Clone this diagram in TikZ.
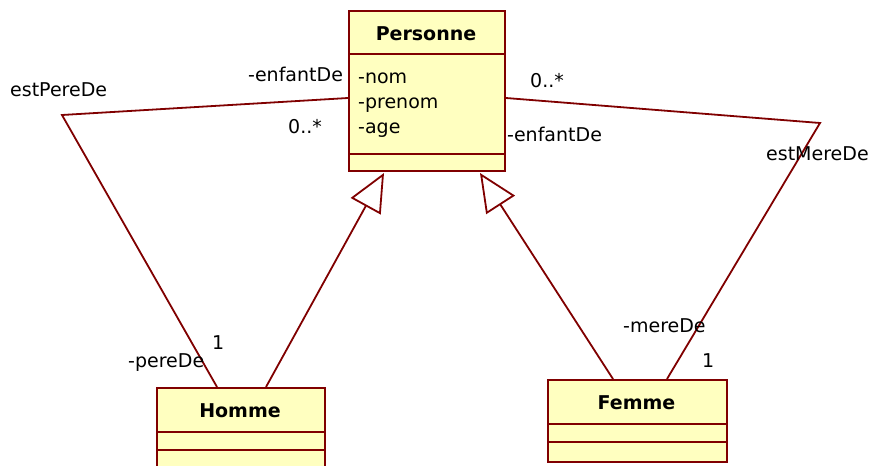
\documentclass[tikz,border=0pt]{standalone}
\usepackage{fontspec}
\setmainfont{DejaVu Sans}
\usetikzlibrary{arrows.meta}
\definecolor{umlline}{RGB}{128,0,0}
\definecolor{umlfill}{RGB}{255,255,192}
\begin{document}
\begin{tikzpicture}[x=1pt,y=-1pt,
  cls/.style={draw=umlline, fill=umlfill, line width=2pt, rectangle, inner sep=0pt, anchor=north west},
  sep/.style={draw=umlline, line width=2pt},
  assoc/.style={draw=umlline, line width=1.8pt, line join=miter},
  gen/.style={draw=umlline, line width=1.8pt, -{Triangle[open,length=38pt,width=34pt]}},
  lbl/.style={font=\fontsize{19}{22}\selectfont, inner sep=0pt, anchor=base west},
  ttl/.style={font=\fontsize{19}{22}\selectfont\bfseries, inner sep=0pt, anchor=base}]
\clip (0,0) rectangle (871,466);
\fill[white] (0,0) rectangle (871,466);
% classes
\node[cls, minimum width=156pt, minimum height=160pt] (personne) at (348,10) {};
\draw[sep] ([yshift=-44pt]personne.north west) -- ([yshift=-44pt]personne.north east);
\draw[sep] ([yshift=18pt]personne.south west) -- ([yshift=18pt]personne.south east);
\node[ttl] (tP) at (426,40) {Personne};
\node[lbl] (a1) at (358,83) {-nom};
\node[lbl] (a2) at (358,108) {-prenom};
\node[lbl] (a3) at (358,133) {-age};

\node[cls, minimum width=168pt, minimum height=110pt] (homme) at (156,387) {};
\draw[sep] (156,432) -- (326,432);
\draw[sep] (156,450) -- (326,450);
\node[ttl] (tH) at (240,417) {Homme};

\node[cls, minimum width=179pt, minimum height=82pt] (femme) at (547,379) {};
\draw[sep] (547,424) -- (728,424);
\draw[sep] (547,442) -- (728,442);
\node[ttl] (tF) at (636.5,409) {Femme};

% associations
\coordinate (bendP) at (62,115);
\coordinate (bendM) at (820,123);
\draw[assoc] ([yshift=-7pt]personne.west) -- (bendP) -- ([xshift=-24pt]homme.north);
\draw[assoc] ([yshift=-7pt]personne.east) -- (bendM) -- ([xshift=29.5pt]femme.north);

% generalizations
\draw[gen] ([xshift=25pt]homme.north) -- ([xshift=-43pt,yshift=-1pt]personne.south);
\draw[gen] ([xshift=-24.5pt]femme.north) -- ([xshift=53pt,yshift=-1pt]personne.south);

% labels
\node[lbl] (l1) at (10,96) {estPereDe};
\node[lbl] (l2) at (248,81) {-enfantDe};
\node[lbl] (l3) at (288,133) {0..*};
\node[lbl] (l4) at (530,87) {0..*};
\node[lbl] (l5) at (507,141) {-enfantDe};
\node[lbl] (l6) at (766,160) {estMereDe};
\node[lbl] (l7) at (212,349) {1};
\node[lbl] (l8) at (128,367) {-pereDe};
\node[lbl] (l9) at (623,332) {-mereDe};
\node[lbl] (l10) at (702,367) {1};
\end{tikzpicture}
\end{document}
